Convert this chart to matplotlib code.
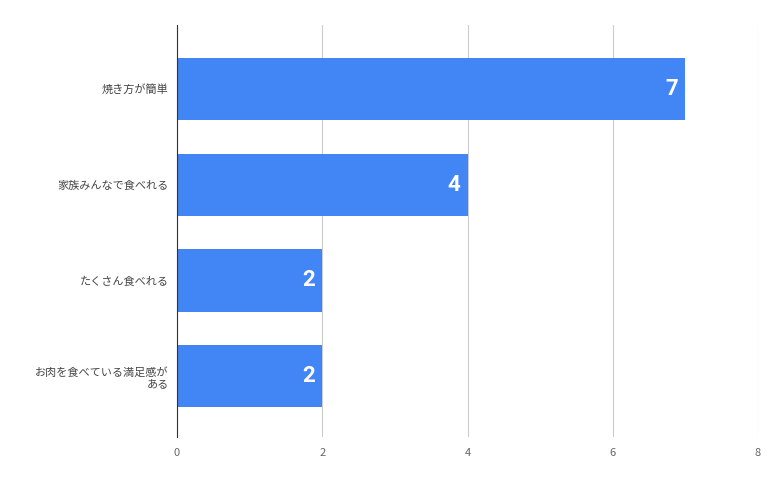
import matplotlib
import matplotlib.pyplot as plt

matplotlib.use('agg')
plt.rcParams['font.family'] = ['Noto Sans CJK JP', 'DejaVu Sans']

categories = ['焼き方が簡単', '家族みんなで食べれる', 'たくさん食べれる', 'お肉を食べている満足感が\nある']
values = [7, 4, 2, 2]

fig = plt.figure(figsize=(7.83, 4.86), dpi=100)
ax = fig.add_axes([177 / 783, 1 - 437 / 486, (758 - 177) / 783, 412 / 486])
pos = list(range(len(categories)))
ax.barh(pos, values, height=0.65, color='#4285f4', zorder=2)
for p, v in zip(pos, values):
    ax.text(v - 0.1, p, str(v), ha='right', va='center', color='white',
            fontsize=16, fontweight='bold', family='Roboto', zorder=3)
ax.set_xlim(0, 8)
ax.set_ylim(3.635, -0.667)
ax.set_xticks([0, 2, 4, 6, 8])
ax.set_yticks(pos)
ax.set_yticklabels(categories, fontsize=8, color='#444444')
ax.tick_params(axis='x', labelsize=8, labelcolor='#666666', length=0, pad=8)
ax.tick_params(axis='y', length=0, pad=6)
ax.grid(axis='x', color='#cccccc', linewidth=0.8, zorder=0)
for s in ['top', 'right', 'bottom']:
    ax.spines[s].set_visible(False)
ax.spines['left'].set_color('#333333')
ax.spines['left'].set_zorder(4)
fig.savefig('out.png', dpi=100)
